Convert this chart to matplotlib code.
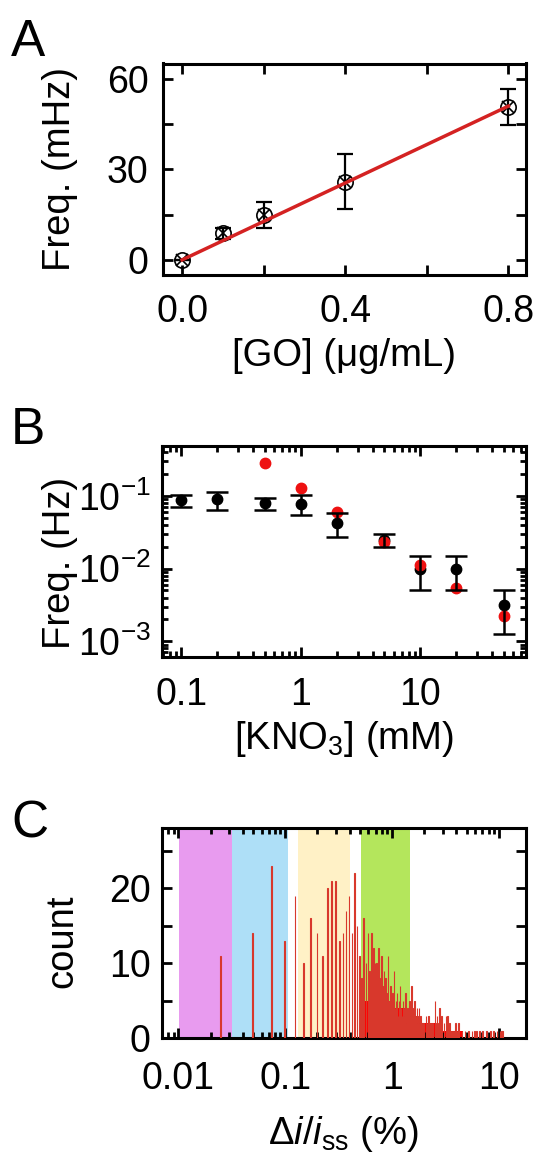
import matplotlib
matplotlib.use('Agg')
import matplotlib.pyplot as plt
from matplotlib.ticker import FixedLocator, LogLocator, NullFormatter, FixedFormatter

plt.rcParams['font.family'] = ['Liberation Sans', 'DejaVu Sans']
plt.rcParams['mathtext.fontset'] = 'custom'
plt.rcParams['mathtext.rm'] = 'Liberation Sans'
plt.rcParams['mathtext.it'] = 'Liberation Sans:italic'
plt.rcParams['mathtext.bf'] = 'Liberation Sans:bold'

# ---------------- Panel A data ----------------
go_conc = [0.0, 0.1, 0.2, 0.4, 0.8]
go_freq = [0.0, 8.8, 14.9, 25.9, 50.6]
go_err = [0.0, 1.9, 4.2, 9.1, 5.9]
fit_x = [0.0, 0.8]
fit_y = [0.0, 50.9]

# ---------------- Panel B data ----------------
kno3 = [0.1, 0.2, 0.5, 1, 2, 5, 10, 20, 50]
freq_black = [0.088, 0.092, 0.081, 0.079, 0.043, 0.025, 0.0098, 0.010, 0.0032]
freq_black_hi = [0.105, 0.115, 0.095, 0.102, 0.058, 0.030, 0.015, 0.015, 0.00515]
freq_black_lo = [0.071, 0.065, 0.065, 0.054, 0.027, 0.020, 0.005, 0.005, 0.00124]
kno3_red = [0.5, 1, 2, 5, 10, 20, 50]
freq_red = [0.29, 0.13, 0.060, 0.023, 0.0111, 0.0054, 0.0022]

# ---------------- Panel C data ----------------
spike_x = [0.0247, 0.0494, 0.0741, 0.0988, 0.1235, 0.148, 0.173, 0.198, 0.222,
           0.247, 0.272, 0.296, 0.321, 0.346, 0.370, 0.395, 0.420, 0.445, 0.469,
           0.494, 0.519, 0.543, 0.568, 0.593, 0.618, 0.642, 0.667, 0.692, 0.716,
           0.741, 0.766, 0.790, 0.815, 0.840, 0.865, 0.889, 0.914, 0.939, 0.963,
           0.988, 1.013, 1.037, 1.062, 1.087, 1.112, 1.136, 1.161, 1.186, 1.210,
           1.235, 1.260, 1.284, 1.309, 1.334, 1.359, 1.383, 1.408, 1.433, 1.457,
           1.482, 1.507, 1.531, 1.556, 1.581, 1.606, 1.630, 1.655, 1.680, 1.704,
           1.729, 1.754, 1.778, 1.803, 1.828, 1.853, 1.877, 1.902, 1.927, 1.951,
           1.976, 2.07, 2.12, 2.2, 2.3, 2.4, 2.51, 2.56, 2.62, 2.7, 2.78, 2.85,
           2.9, 3.05, 3.2, 3.3, 3.45, 3.6, 3.75, 3.9, 4.05, 4.2, 4.5, 4.8, 5.2,
           5.6, 5.9, 6.2, 6.6, 7.0, 7.6, 8.3, 8.9, 9.6, 10.2, 10.5, 10.8]
spike_counts = [11, 14, 23, 13, 19, 10, 16, 14, 11,
                20, 21, 21, 13, 14, 17, 19, 14, 22, 15,
                11, 8, 16, 10, 14, 9, 14, 12, 10, 10,
                12, 8, 11, 7, 9, 8, 6, 11, 5, 7,
                5, 6, 9, 4, 5, 6, 3, 5, 7, 4,
                3, 5, 4, 3, 6, 2, 4, 3, 2, 5,
                3, 7, 2, 3, 4, 2, 5, 3, 1, 4,
                2, 3, 4, 2, 1, 3, 2, 1, 2, 1,
                2, 3, 2, 3, 2, 2, 5, 2, 3, 2, 4, 2,
                3, 2, 3, 3, 2, 1, 1, 2, 1, 2, 1, 1, 1,
                1, 1, 1, 1, 1, 1, 1, 1, 1, 1, 1, 1]
bg_x = [0.50, 0.54, 0.60, 0.65, 0.70, 0.80, 0.90, 1.0, 1.1, 1.2, 1.35, 1.5,
        1.7, 1.9, 2.2, 2.6, 3.0, 3.5, 4.0, 4.6]
bg_counts = [0, 5, 7, 8, 7, 6, 5, 4, 4, 4, 3, 3, 2, 2, 2, 1, 1, 1, 1, 0]
band_edges = [(0.0102, 0.0315), (0.0315, 0.1066), (0.1306, 0.404), (0.512, 1.47)]
band_colors = ['#E89BEF', '#AEDFF7', '#FFF1C6', '#B4E65C']

W, H = 536, 1155
fig = plt.figure(figsize=(W / 100, H / 100), dpi=100)


def px_axes(l, t, r, b):
    return fig.add_axes([l / W, 1 - b / H, (r - l) / W, (b - t) / H])


axA = px_axes(162.5, 63.5, 525.5, 275)
axB = px_axes(161.7, 446, 525.5, 657.3)
axC = px_axes(161.7, 828.3, 525.5, 1038.3)

TICK_FS = 27
LABEL_FS = 27.5


def style(ax, xpad, ypad):
    for s in ax.spines.values():
        s.set_linewidth(2.2)
    ax.tick_params(which='both', direction='in', top=True, right=True,
                   width=2, labelsize=TICK_FS)
    ax.tick_params(axis='x', which='both', pad=xpad)
    ax.tick_params(axis='y', which='both', pad=ypad)
    ax.tick_params(which='major', length=7)
    ax.tick_params(which='minor', length=4)


def labels(ax, xl, yl, xb, yb, yc):
    ax.set_xlabel(xl, fontsize=LABEL_FS)
    ax.set_ylabel(yl, fontsize=LABEL_FS)
    ax.xaxis.set_label_coords(0.5, xb)
    ax.xaxis.label.set_verticalalignment('baseline')
    ax.yaxis.set_label_coords(yb, yc)
    ax.yaxis.label.set_rotation_mode('anchor')
    ax.yaxis.label.set_horizontalalignment('center')
    ax.yaxis.label.set_verticalalignment('baseline')


# ---------------- Panel A ----------------
axA.errorbar(go_conc, go_freq, yerr=go_err, fmt='none', ecolor='black',
             elinewidth=1.6, capsize=5.5, capthick=1.6, zorder=3)
axA.plot(go_conc, go_freq, 'o', mfc='none', mec='black', ms=11, mew=1.2, zorder=4)
axA.plot(go_conc, go_freq, 'x', color='black', ms=9, mew=1.2, zorder=4)
axA.plot(fit_x, fit_y, color='#D42222', lw=2.5, zorder=5)
axA.set_xlim(-0.048, 0.842)
axA.set_ylim(-5, 65)
axA.xaxis.set_major_locator(FixedLocator([0.0, 0.4, 0.8]))
axA.xaxis.set_major_formatter(FixedFormatter(['0.0', '0.4', '0.8']))
axA.xaxis.set_minor_locator(FixedLocator([0.2, 0.6]))
axA.yaxis.set_major_locator(FixedLocator([0, 30, 60]))
axA.yaxis.set_minor_locator(FixedLocator([15, 45]))
style(axA, 14, 10)
axA.tick_params(which='minor', length=7)
labels(axA, '[GO] (\u03bcg/mL)', 'Freq. (mHz)', -0.43, -0.255, 0.5)

# ---------------- Panel B ----------------
yerr_b = [[f - lo for f, lo in zip(freq_black, freq_black_lo)],
          [hi - f for f, hi in zip(freq_black, freq_black_hi)]]
axB.plot(kno3, freq_black, 'o', color='black', ms=7.5, zorder=3)
axB.plot(kno3_red, freq_red, 'o', color='#EE1111', ms=7.5, zorder=4)
axB.errorbar(kno3, freq_black, yerr=yerr_b, fmt='none', ecolor='black',
             elinewidth=1.8, capsize=8, capthick=1.8, zorder=5)
axB.set_xscale('log')
axB.set_yscale('log')
axB.set_xlim(0.0687, 75.7)
axB.set_ylim(6.0e-4, 0.49)
axB.xaxis.set_major_locator(FixedLocator([0.1, 1, 10]))
axB.xaxis.set_major_formatter(FixedFormatter(['0.1', '1', '10']))
axB.xaxis.set_minor_locator(LogLocator(base=10, subs=range(2, 10), numticks=20))
axB.xaxis.set_minor_formatter(NullFormatter())
axB.yaxis.set_major_locator(FixedLocator([1e-3, 1e-2, 1e-1]))
axB.yaxis.set_major_formatter(FixedFormatter([r'$10^{-3}$', r'$10^{-2}$', r'$10^{-1}$']))
axB.yaxis.set_minor_locator(LogLocator(base=10, subs=range(2, 10), numticks=20))
axB.yaxis.set_minor_formatter(NullFormatter())
style(axB, 14.5, 8)
labels(axB, r'[KNO$_3$] (mM)', 'Freq. (Hz)', -0.432, -0.252, 0.446)

# ---------------- Panel C ----------------
for (lo, hi), c in zip(band_edges, band_colors):
    axC.axvspan(lo, hi, color=c, lw=0, zorder=0)
axC.fill_between(bg_x, bg_counts, step='post', color='#FF0000', lw=0, zorder=2)
axC.bar(spike_x, spike_counts, width=[0.014 * x for x in spike_x],
        color='#FF1010', edgecolor='#D8382C', linewidth=0.8, zorder=3)
axC.set_xscale('log')
axC.set_xlim(0.00697, 17.7)
axC.set_ylim(0, 28)
axC.xaxis.set_major_locator(FixedLocator([0.01, 0.1, 1, 10]))
axC.xaxis.set_major_formatter(FixedFormatter(['0.01', '0.1', '1', '10']))
axC.xaxis.set_minor_locator(LogLocator(base=10, subs=range(2, 10), numticks=20))
axC.xaxis.set_minor_formatter(NullFormatter())
axC.yaxis.set_major_locator(FixedLocator([0, 10, 20]))
axC.yaxis.set_minor_locator(FixedLocator([5, 15, 25]))
style(axC, 16, 8)
axC.tick_params(axis='y', which='minor', length=7)
labels(axC, r'$\mathit{\Delta i/i}_{\mathrm{ss}}$ (%)', 'count', -0.505, -0.2466, 0.46)
for ax in (axA, axB, axC):
    ax.set_axisbelow(False)

# panel letters
for letter, yb in (('A', 56), ('B', 444.5), ('C', 837)):
    fig.text(11 / W, 1 - yb / H, letter, fontsize=37, ha='left', va='baseline')

fig.savefig('out.png', dpi=100)
